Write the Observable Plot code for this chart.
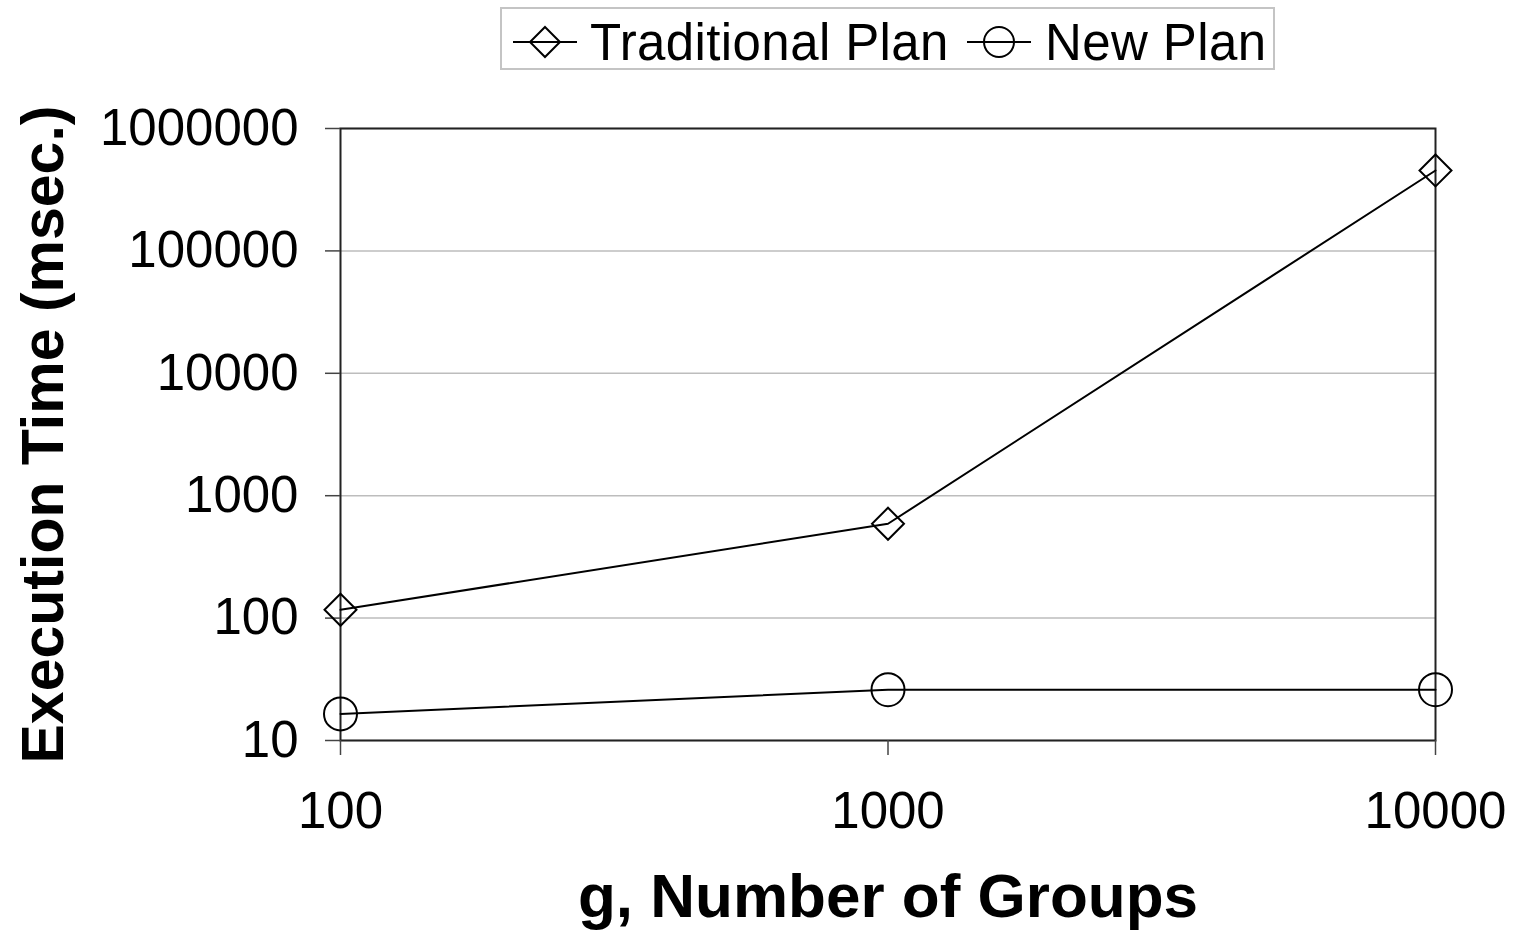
<!DOCTYPE html>
<html>
<head>
<meta charset="utf-8">
<script src="https://cdn.jsdelivr.net/npm/d3@7"></script>
<script src="https://cdn.jsdelivr.net/npm/@observablehq/plot@0.6"></script>
<style>
  html, body { margin: 0; padding: 0; background: #fff; }
  body { width: 1514px; height: 931px; overflow: hidden; font-family: "Liberation Sans", Arial, Helvetica, sans-serif; }
  #legend { position: relative; width: 1514px; height: 80px; }
  #legend svg { position: absolute; left: 500px; top: 7px; }
</style>
</head>
<body>
<div id="legend"></div>
<div id="chart"></div>
<script>
// ---- data ----
const groups = [100, 1000, 10000];
const traditional = [117, 590, 454000];
const newPlan = [16.5, 26, 26];
const seriesNames = ["Traditional Plan", "New Plan"];
const seriesSymbols = ["diamond2", "circle"];
const yTicks = [10, 100, 1000, 10000, 100000, 1000000];
const xTicks = [100, 1000, 10000];
const yTitle = "Execution Time (msec.)";
const xTitle = "g, Number of Groups";

const rows = [];
groups.forEach((g, i) => {
  rows.push({g, t: traditional[i], s: seriesNames[0]});
  rows.push({g, t: newPlan[i], s: seriesNames[1]});
});

// ---- legend (HTML/SVG above the chart) ----
const lg = d3.select("#legend").append("svg")
  .attr("width", 775).attr("height", 63)
  .style("font-family", "'Liberation Sans', Arial, Helvetica, sans-serif");
lg.append("rect").attr("x", 1).attr("y", 1).attr("width", 773).attr("height", 61)
  .attr("fill", "#fff").attr("stroke", "#c4c4c4").attr("stroke-width", 2);
const legendItems = [
  {name: seriesNames[0], sym: d3.symbolDiamond2, cx: 45, tx: 90},
  {name: seriesNames[1], sym: d3.symbolCircle, cx: 499, tx: 545}
];
legendItems.forEach(it => {
  lg.append("line").attr("x1", it.cx - 32).attr("x2", it.cx + 32)
    .attr("y1", 35).attr("y2", 35).attr("stroke", "#000").attr("stroke-width", 2);
  lg.append("path")
    .attr("d", d3.symbol(it.sym, it.sym === d3.symbolCircle ? Math.PI * 15 * 15 : Math.PI * 13.5 * 13.5)())
    .attr("transform", `translate(${it.cx},35)`)
    .attr("fill", "none").attr("stroke", "#000").attr("stroke-width", 2);
  lg.append("text").attr("x", it.tx).attr("y", 53)
    .attr("font-size", 51).attr("letter-spacing", 0.4).attr("fill", "#000").text(it.name);
});

// ---- chart ----
const chart = Plot.plot({
  width: 1514,
  height: 851,
  marginTop: 48,
  marginBottom: 191,
  marginLeft: 340,
  marginRight: 79,
  style: {fontFamily: "'Liberation Sans', Arial, Helvetica, sans-serif", fontSize: "50px", color: "#000", background: "#fff"},
  x: {type: "log", domain: [100, 10000]},
  y: {type: "log", domain: [10, 1000000]},
  symbol: {domain: seriesNames, range: seriesSymbols},
  marks: [
    Plot.ruleY(yTicks, {stroke: "#bdbdbd", strokeWidth: 1.5}),
    Plot.frame({stroke: "#222", strokeWidth: 2}),
    Plot.axisY({ticks: yTicks, tickSize: 15, tickPadding: 27, tickFormat: d3.format("d"), label: null, fontSize: 51, stroke: "#444", strokeWidth: 1.5}),
    Plot.axisX({ticks: xTicks, tickSize: 15, tickPadding: 36, tickFormat: d3.format("d"), label: null, fontSize: 51, stroke: "#444", strokeWidth: 1.5}),
    Plot.line(rows, {x: "g", y: "t", z: "s", stroke: "#000", strokeWidth: 2}),
    Plot.dot(rows.filter(d => d.s === seriesNames[0]), {x: "g", y: "t", symbol: "s", r: 14.4, stroke: "#000", strokeWidth: 2, fill: "none"}),
    Plot.dot(rows.filter(d => d.s === seriesNames[1]), {x: "g", y: "t", symbol: "s", r: 16.5, stroke: "#000", strokeWidth: 2, fill: "none"}),
    Plot.text([yTitle], {frameAnchor: "left", dx: -296, rotate: -90, text: d => d, fontSize: 59, fontWeight: "bold", lineAnchor: "middle", textAnchor: "middle", fill: "#000"}),
    Plot.text([xTitle], {frameAnchor: "bottom", dy: 157, text: d => d, fontSize: 62, fontWeight: "bold", lineAnchor: "middle", textAnchor: "middle", fill: "#000"})
  ]
});
document.getElementById("chart").appendChild(chart);
</script>
</body>
</html>
